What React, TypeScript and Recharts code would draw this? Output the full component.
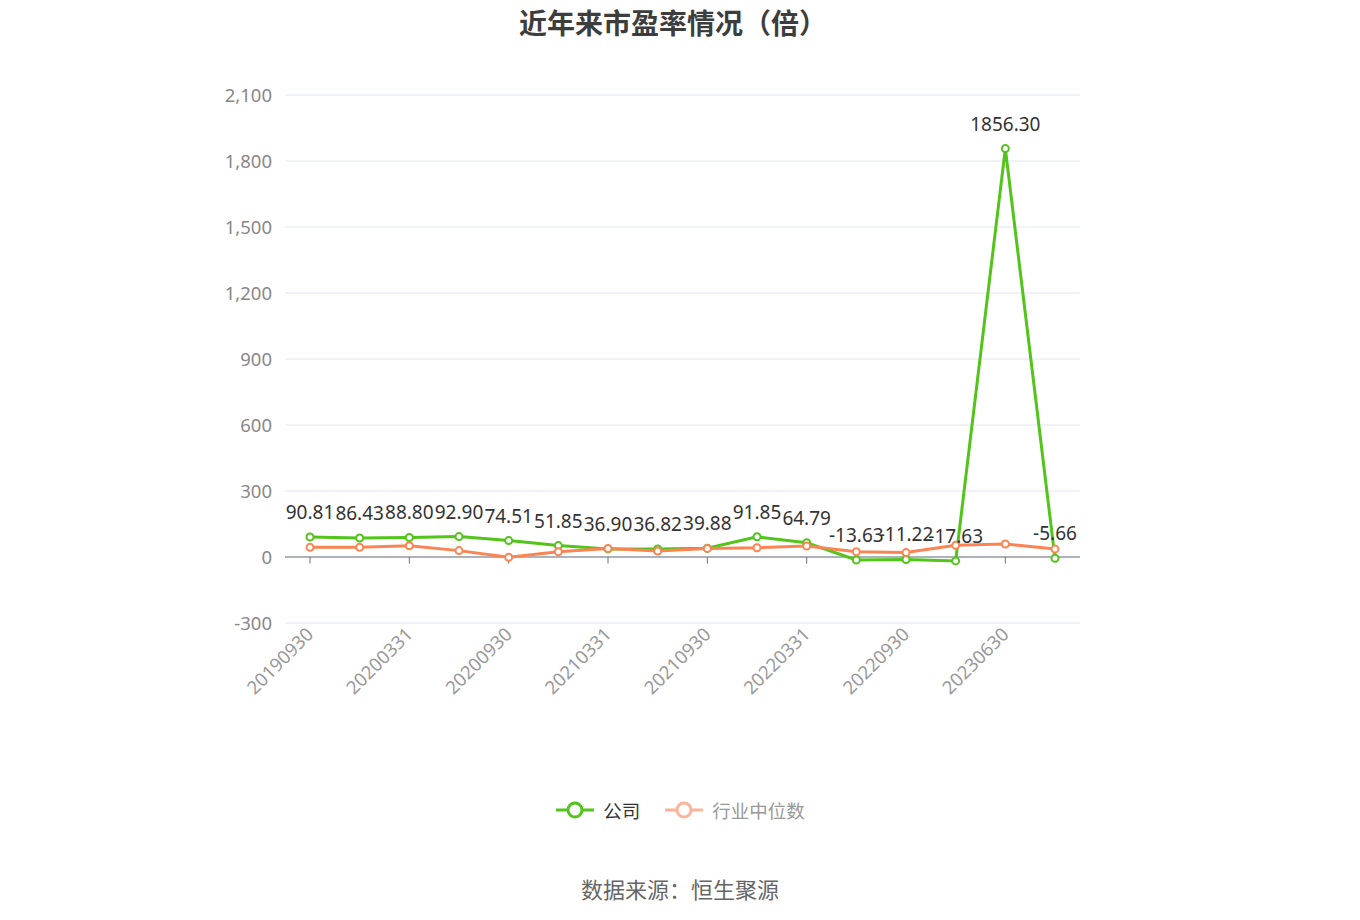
import { LineChart, Line, XAxis, YAxis, CartesianGrid, ReferenceLine, LabelList } from "recharts";

const categories = [
  "20190930", "20191231", "20200331", "20200630", "20200930", "20201231", "20210331", "20210630",
  "20210930", "20211231", "20220331", "20220630", "20220930", "20230331", "20230630", "20230930",
];
const companyPE = [90.81, 86.43, 88.8, 92.9, 74.51, 51.85, 36.9, 36.82, 39.88, 91.85, 64.79, -13.63, -11.22, -17.63, 1856.3, -5.66];
const industryPE = [44, 44, 51, 29, -1, 24, 39, 27, 39, 42, 50, 24, 20, 53, 59, 36];
const yTicks = [-300, 0, 300, 600, 900, 1200, 1500, 1800, 2100];

const data = categories.map((date, i) => ({ date, company: companyPE[i], industry: industryPE[i] }));
const tickCats = categories.filter((_, i) => i % 2 === 0);

const FONT = '"Noto Sans CJK SC", "Noto Sans", sans-serif';
const NUM_FONT = '"Noto Sans", "Noto Sans CJK SC", sans-serif';
const GREEN = "#52c41a";
const ORANGE = "#fc8452";

function XTick(props: any) {
  const { x, y, payload } = props;
  return (
    <g transform={`translate(${x},${y})`}>
      <text textAnchor="end" dy="0.35em" transform="rotate(-45)" fill="#999" fontSize={18.5} fontFamily={NUM_FONT}>
        {payload.value}
      </text>
    </g>
  );
}

function LegendIcon({ color }: { color: string }) {
  return (
    <svg width={40} height={20} style={{ verticalAlign: "middle" }}>
      <line x1={1} y1={10} x2={39} y2={10} stroke={color} strokeWidth={3} />
      <circle cx={20} cy={10} r={7} fill="#fff" stroke={color} strokeWidth={3} />
    </svg>
  );
}

export default function App() {
  return (
    <div style={{ position: "absolute", left: 0, top: 0, width: 1360, height: 920, fontFamily: FONT, background: "#fff" }}>
      <div style={{ position: "absolute", top: 2, left: 0, width: 1346, textAlign: "center", fontSize: 28, fontWeight: "bold", color: "#3d3d3d" }}>
        近年来市盈率情况（倍）
      </div>
      <LineChart width={1360} height={920} data={data} margin={{ top: 95, right: 280, bottom: 197, left: 205 }}>
        <CartesianGrid vertical={false} stroke="#e0e6f1" />
        <XAxis
          dataKey="date"
          interval={1}
          axisLine={false}
          tickLine={false}
          height={100}
          padding={{ left: 25, right: 25 }}
          tick={<XTick />}
        />
        <YAxis
          domain={[-300, 2100]}
          ticks={yTicks}
          width={80}
          axisLine={false}
          tickLine={false}
          tickMargin={7}
          tick={{ fill: "#888", fontSize: 18.5, fontFamily: NUM_FONT }}
          tickFormatter={(v: number) => v.toLocaleString("en-US")}
        />
        <ReferenceLine y={0} stroke="#6e7079" strokeWidth={1} />
        {tickCats.map((c) => (
          <ReferenceLine key={c} segment={[{ x: c, y: 0 }, { x: c, y: -30 }]} stroke="#6e7079" strokeWidth={1} />
        ))}
        <Line
          dataKey="company"
          stroke={GREEN}
          strokeWidth={3}
          dot={{ r: 3.5, fill: "#fff", stroke: GREEN, strokeWidth: 2 }}
          isAnimationActive={false}
        >
          <LabelList
            dataKey="company"
            position="top"
            offset={18}
            fill="#333"
            fontSize={19}
            fontFamily={NUM_FONT}
            formatter={(v: any) => Number(v).toFixed(2)}
          />
        </Line>
        <Line
          dataKey="industry"
          stroke={ORANGE}
          strokeWidth={3}
          dot={{ r: 3.5, fill: "#fff", stroke: ORANGE, strokeWidth: 2 }}
          isAnimationActive={false}
        />
      </LineChart>
      <div style={{ position: "absolute", top: 797, left: 0, width: 1360, display: "flex", justifyContent: "center", fontSize: 18.5 }}>
        <div style={{ display: "flex", alignItems: "center", marginRight: 24, marginLeft: 0 }}>
          <LegendIcon color={GREEN} />
          <span style={{ marginLeft: 8, color: "#333" }}>公司</span>
        </div>
        <div style={{ display: "flex", alignItems: "center" }}>
          <LegendIcon color="#fbb49a" />
          <span style={{ marginLeft: 8, color: "#999" }}>行业中位数</span>
        </div>
      </div>
      <div style={{ position: "absolute", top: 872, left: 0, width: 1360, textAlign: "center", fontSize: 22, color: "#666" }}>
        数据来源：恒生聚源
      </div>
    </div>
  );
}
